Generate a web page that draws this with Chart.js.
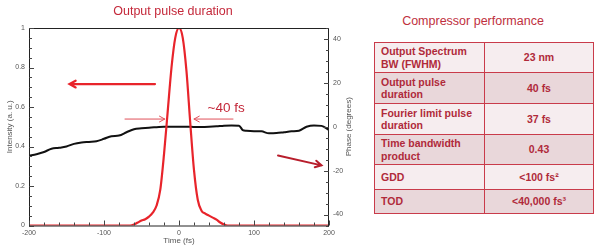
<!DOCTYPE html>
<html>
<head>
<meta charset="utf-8">
<script src="https://cdn.jsdelivr.net/npm/chart.js@4"></script>
<style>
  html, body { margin: 0; padding: 0; background: #fff; }
  body { width: 600px; height: 251px; position: relative; overflow: hidden; font-family: "Liberation Sans", Arial, sans-serif; }
  #chartBox { position: absolute; left: 0; top: 0; width: 360px; height: 251px; }
  #tableTitle { position: absolute; left: 373px; width: 200px; top: 14px; text-align: center; font-size: 12.5px; color: #c0303e; }
  #perf { position: absolute; left: 374px; top: 42px; width: 220px; border-collapse: collapse; color: #b02a3a; font-weight: bold; font-size: 10.5px; line-height: 12.5px; }
  #perf td { border: 1.5px solid #c93b4a; padding: 0 0 0 6px; }
  #perf td.val { text-align: center; padding: 0; }
  #perf tr:nth-child(odd) { background: #f6edef; }
  #perf tr:nth-child(even) { background: #e9d7da; }
</style>
</head>
<body>
<div id="chartBox"><canvas id="pulseChart"></canvas></div>
<div id="tableTitle">Compressor performance</div>
<table id="perf"></table>
<script>
// intensity profile (fs, a.u.)
const pulseTime = [-200, -100, -70, -65, -60, -55, -50, -45, -40, -35, -30, -25, -20, -15, -10, -5, 0,
                   5, 10, 15, 20, 25, 30, 35, 40, 45, 50, 55, 60, 65, 70, 100, 200];
const pulseIntensity = [0, 0, 0, 0, 0.005, 0.015, 0.025, 0.032, 0.045, 0.065, 0.1, 0.18, 0.36, 0.58, 0.8, 0.95, 1.0,
                        0.95, 0.78, 0.52, 0.28, 0.13, 0.075, 0.06, 0.05, 0.04, 0.03, 0.015, 0.005, 0, 0, 0, 0];
// spectral phase (fs, degrees)
const phaseTime = [-200, -190, -180, -170, -160, -150, -140, -130, -120, -110, -100, -90, -80, -70, -60, -50, -40,
                   -30, -20, -10, 0, 10, 20, 30, 40, 50, 60, 70, 80, 85, 90, 100, 110, 120, 130, 140, 150, 160,
                   170, 180, 190, 200];
const phaseDeg = [-13.2, -12.5, -11.5, -10.0, -9.6, -9.0, -7.8, -7.2, -6.9, -6.6, -5.5, -4.3, -4.0, -2.5, -1.1, -0.7, -0.4,
                  -0.2, 0, 0, 0, 0, -0.1, -0.1, 0, 0.2, 0.5, 0.6, 0.5, -1.5, -1.8, -2.0, -2.1, -3.0, -2.9, -2.5, -2.1, -1.8,
                  0, 0.6, 0.4, -1.5];

const xTicks = [-200, -100, 0, 100, 200];
const yTicks = [0, 0.2, 0.4, 0.6, 0.8, 1];
const y2Ticks = [-40, -20, 0, 20, 40];

// table
const perfLabels = ["Output Spectrum BW (FWHM)", "Output pulse duration", "Fourier limit pulse duration",
                    "Time bandwidth product", "GDD", "TOD"];
const perfValues = ["23 nm", "40 fs", "37 fs", "0.43", "<100 fs²", "<40,000 fs³"];
const rowHeights = [30, 31, 31, 30, 25, 24];

const tbl = document.getElementById("perf");
perfLabels.forEach((lab, i) => {
    const tr = document.createElement("tr");
    tr.style.height = rowHeights[i] + "px";
    const a = document.createElement("td");
    a.style.width = "103px";
    a.textContent = lab;
    const b = document.createElement("td");
    b.className = "val";
    b.textContent = perfValues[i];
    tr.appendChild(a);
    tr.appendChild(b);
    tbl.appendChild(tr);
});

/** --------------- frame, inward ticks, labels, arrows ---------------- */
const decor = {
    id: "decor",
    afterDatasetsDraw(chart) {
        const { ctx, chartArea: a, scales } = chart;
        const x = scales.x, y = scales.y, y2 = scales.y2;
        ctx.save();
        // box
        ctx.strokeStyle = "#222";
        ctx.lineWidth = 1;
        ctx.strokeRect(a.left + 0.5, a.top + 0.5, a.right - a.left - 1, a.bottom - a.top);

        // inward ticks
        ctx.strokeStyle = "#444";
        ctx.beginPath();
        for (let v = -200; v <= 200; v += 20) {
            const px = Math.round(x.getPixelForValue(v)) + 0.5;
            const len = v % 100 === 0 ? 5 : 3;
            ctx.moveTo(px, a.bottom); ctx.lineTo(px, a.bottom - len);
        }
        for (let i = 0; i <= 20; i++) {
            const v = i * 0.05;
            const py = Math.round(y.getPixelForValue(v)) + 0.5;
            const len = i % 4 === 0 ? 5 : 3;
            ctx.moveTo(a.left, py); ctx.lineTo(a.left + len, py);
        }
        for (let v = -45; v <= 45; v += 5) {
            const py = Math.round(y2.getPixelForValue(v)) + 0.5;
            const len = v % 20 === 0 ? 5 : 3;
            ctx.moveTo(a.right, py); ctx.lineTo(a.right - len, py);
        }
        ctx.stroke();

        // titles
        ctx.fillStyle = "#c4283a";
        ctx.font = "12.5px 'Liberation Sans', Arial, sans-serif";
        ctx.textAlign = "center";
        ctx.textBaseline = "middle";
        ctx.fillText("Output pulse duration", 173, 12);

        ctx.fillStyle = "#555";
        ctx.font = "8px 'Liberation Sans', Arial, sans-serif";
        ctx.fillText("Time (fs)", (a.left + a.right) / 2, 241);
        ctx.save();
        ctx.translate(10, (a.top + a.bottom) / 2);
        ctx.rotate(-Math.PI / 2);
        ctx.fillText("Intensity (a. u.)", 0, 0);
        ctx.restore();
        ctx.save();
        ctx.translate(349, (a.top + a.bottom) / 2);
        ctx.rotate(-Math.PI / 2);
        ctx.fillText("Phase (degrees)", 0, 0);
        ctx.restore();

        // arrows (data coordinates)
        const arrow = (x0, y0, x1, y1, sc, color, w, head) => {
            const p0 = [x.getPixelForValue(x0), sc.getPixelForValue(y0)];
            const p1 = [x.getPixelForValue(x1), sc.getPixelForValue(y1)];
            const ang = Math.atan2(p1[1] - p0[1], p1[0] - p0[0]);
            ctx.strokeStyle = color;
            ctx.lineWidth = w;
            ctx.lineCap = "round";
            ctx.beginPath();
            ctx.moveTo(p0[0], p0[1]); ctx.lineTo(p1[0], p1[1]);
            ctx.moveTo(p1[0] - head * Math.cos(ang - 0.5), p1[1] - head * Math.sin(ang - 0.5));
            ctx.lineTo(p1[0], p1[1]);
            ctx.lineTo(p1[0] - head * Math.cos(ang + 0.5), p1[1] - head * Math.sin(ang + 0.5));
            ctx.stroke();
        };
        arrow(-32, 0.716, -146, 0.716, y, "#e8242b", 2.2, 7);
        arrow(-72, 0.539, -19, 0.539, y, "#e0505a", 1, 6);
        arrow(72, 0.539, 20, 0.539, y, "#e0505a", 1, 6);
        arrow(132, -13.1, 190, -17.6, y2, "#b81e2c", 2, 7);

        ctx.fillStyle = "#c4283a";
        ctx.font = "13.5px 'Liberation Sans', Arial, sans-serif";
        ctx.textAlign = "left";
        ctx.textBaseline = "alphabetic";
        ctx.fillText("~40 fs", x.getPixelForValue(38), y.getPixelForValue(0.575));
        ctx.restore();
    }
};

const tickFont = { size: 7, family: "'Liberation Sans', Arial, sans-serif" };
const plainLabel = v => String(+Number(v).toFixed(2));

new Chart(document.getElementById("pulseChart").getContext("2d"), {
    type: "line",
    data: {
        datasets: [
            {
                label: "Intensity",
                data: pulseTime.map((t, i) => ({ x: t, y: pulseIntensity[i] })),
                yAxisID: "y",
                borderColor: "#e8242b",
                borderWidth: 2.2,
                pointRadius: 0,
                cubicInterpolationMode: "monotone",
            },
            {
                label: "Phase",
                data: phaseTime.map((t, i) => ({ x: t, y: phaseDeg[i] })),
                yAxisID: "y2",
                borderColor: "#111",
                borderWidth: 2,
                pointRadius: 0,
                cubicInterpolationMode: "monotone",
            },
        ],
    },
    options: {
        responsive: true,
        maintainAspectRatio: false,
        animation: false,
        events: [],
        layout: { padding: { top: 28, left: 0, right: 0, bottom: 0 } },
        plugins: { legend: { display: false }, title: { display: false }, tooltip: { enabled: false } },
        scales: {
            x: {
                type: "linear",
                min: -200, max: 200,
                afterBuildTicks: s => { s.ticks = xTicks.map(v => ({ value: v })); },
                afterFit: s => { s.height = 25.5; },
                grid: { display: false, drawTicks: false },
                border: { display: false },
                ticks: { font: tickFont, color: "#555", padding: 3, maxRotation: 0, callback: plainLabel },
            },
            y: {
                position: "left",
                min: 0, max: 1,
                afterBuildTicks: s => { s.ticks = yTicks.map(v => ({ value: v })); },
                afterFit: s => { s.width = 29; },
                grid: { display: false, drawTicks: false },
                border: { display: false },
                ticks: { font: tickFont, color: "#555", padding: 4, callback: plainLabel },
            },
            y2: {
                position: "right",
                min: -45, max: 45,
                afterBuildTicks: s => { s.ticks = y2Ticks.map(v => ({ value: v })); },
                afterFit: s => { s.width = 31; },
                grid: { display: false, drawTicks: false },
                border: { display: false },
                ticks: { font: tickFont, color: "#555", padding: 4, callback: plainLabel },
            },
        },
    },
    plugins: [decor],
});
</script>
</body>
</html>
